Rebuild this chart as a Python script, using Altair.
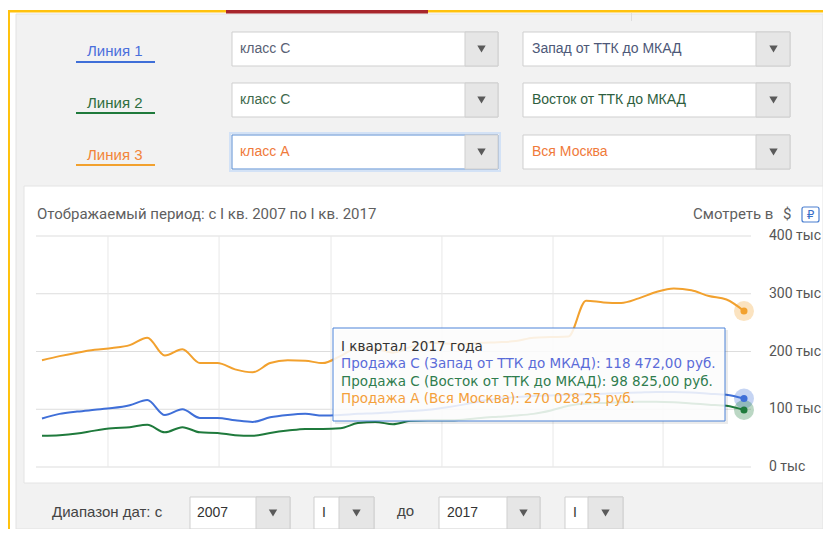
import altair as alt
import pandas as pd

# ---------------- data ----------------
QUARTER = list(range(41))  # 0 = I кв. 2007 ... 40 = I кв. 2017

ZAPAD_C = [84000, 92000, 96000, 99000, 102000, 107000, 116000, 90000, 100000, 85000,
           85000, 81000, 78000, 86000, 90000, 92000, 89000, 90000, 92000, 93000,
           95000, 97000, 99000, 103000, 108000, 114000, 118000, 121000, 123000, 124000,
           125000, 126000, 127000, 128000, 129000, 130000, 130000, 129000, 127000, 125000,
           118472.00]
VOSTOK_C = [54000, 55000, 58000, 63000, 67000, 69000, 73000, 60000, 69000, 60000,
            59000, 55000, 54000, 59000, 63000, 66000, 66000, 67000, 76000, 78000,
            74000, 80000, 81000, 81000, 82000, 85000, 87000, 89000, 92000, 98000,
            106000, 110000, 111000, 112000, 113000, 113000, 112000, 110000, 108000, 106000,
            98825.00]
MOSCOW_A = [185000, 192000, 198000, 203000, 206000, 211000, 224000, 193000, 204000, 180000,
            180000, 169000, 164000, 180000, 185000, 184000, 180000, 192000, 206000, 205000,
            198000, 208000, 215000, 214000, 213000, 215000, 216000, 218000, 224000, 225000,
            226000, 288000, 285000, 284000, 292000, 303000, 309000, 306000, 296000, 290000,
            270028.25]

SERIES = ["Продажа С (Запад от ТТК до МКАД)",
          "Продажа С (Восток от ТТК до МКАД)",
          "Продажа А (Вся Москва)"]
LINE_COLORS = ["#3f6fd8", "#1f7a3c", "#f2a12e"]
TEXT_COLORS = ["#5a6bd8", "#2f7d4e", "#f4a03a"]

Y_TICKS = [0, 100000, 200000, 300000, 400000]
Y_LABELS = ["0 тыс", "100 тыс", "200 тыс", "300 тыс", "400 тыс"]
X_GRID = [3.76, 10.09, 16.47, 22.79, 29.12, 35.39]

PERIOD_TITLE = "Отображаемый период: с I кв. 2007 по I кв. 2017"
TOOLTIP_TITLE = "I квартал 2017 года"

# ---------------- layout ----------------
OX, OY = 36, 236          # page position of plot origin
W, H = 715, 231
PAD = {"left": OX - 8, "top": OY - 8, "right": 815 - (OX - 8) - W, "bottom": 521 - (OY - 8) - H}

rows = []
for name, vals in zip(SERIES, [ZAPAD_C, VOSTOK_C, MOSCOW_A]):
    for q, v in zip(QUARTER, vals):
        rows.append({"q": q, "value": v, "series": name})
df = pd.DataFrame(rows)
last = df[df.q == QUARTER[-1]]

xs = alt.Scale(domain=[-0.342, 40.40], nice=False, zero=False)
ys = alt.Scale(domain=[0, 400000], nice=False, zero=False)
cs = alt.Scale(domain=SERIES, range=LINE_COLORS)


def rub(v):
    return "{:,.2f}".format(v).replace(",", " ").replace(".", ",") + " руб."


def rect_layer(items, **mark):
    d = pd.DataFrame(items, columns=["x1", "y1", "x2", "y2", "f", "s", "sw"])
    d["x1"] -= OX; d["x2"] -= OX; d["y1"] -= OY; d["y2"] -= OY
    return alt.Chart(d).mark_rect(**mark).encode(
        x=alt.X("x1:Q", scale=None, axis=None), x2="x2:Q",
        y=alt.Y("y1:Q", scale=None, axis=None), y2="y2:Q",
        fill=alt.Fill("f:N", scale=None, legend=None),
        stroke=alt.Stroke("s:N", scale=None, legend=None),
        strokeWidth=alt.StrokeWidth("sw:Q", scale=None, legend=None))


def text_layer(items, font, size, align="left", weight="normal"):
    d = pd.DataFrame(items, columns=["x", "y", "t", "c"])
    d["x"] -= OX; d["y"] -= OY
    return alt.Chart(d).mark_text(font=font, fontSize=size, align=align,
                                  baseline="middle", fontWeight=weight).encode(
        x=alt.X("x:Q", scale=None, axis=None), y=alt.Y("y:Q", scale=None, axis=None),
        text="t:N", color=alt.Color("c:N", scale=None, legend=None))


T = "transparent"
bg_items = [
    (16, 14, 823, 529, "#f2f2f2", "#e2e2e2", 1),
    (8, 10, 823, 12.5, "#ffc20e", T, 0),
    (8, 10, 10, 529, "#ffc20e", T, 0),
    (226, 10, 428, 13.5, "#a8262c", T, 0),
    (631, 13, 632, 21, "#dddddd", T, 0),
    (24, 186, 823, 483, "#ffffff", "#e4e4e4", 1),
]
SEL_ROWS = [(32, 66), (83, 117), (135, 169)]
for i, (y1, y2) in enumerate(SEL_ROWS):
    if i == 2:
        bg_items.append((230, y1 - 2, 500, y2 + 2, T, "#d3e2f6", 2))
    bg_items.append((232, y1, 498, y2, "#ffffff", "#5b8fd6" if i == 2 else "#cfcfcf", 1))
    bg_items.append((465, y1, 498, y2, "#e6e6e6", "#cfcfcf", 1))
    bg_items.append((523, y1, 790, y2, "#ffffff", "#cfcfcf", 1))
    bg_items.append((756, y1, 790, y2, "#e6e6e6", "#cfcfcf", 1))
UNDER_Y = [62, 113, 165]
for i, yy in enumerate(UNDER_Y):
    bg_items.append((76, yy - 1, 155, yy + 1, LINE_COLORS[i], T, 0))
BOTTOM_SEL = [(190, 256, 290), (314, 339, 374), (439, 507, 540), (565, 588, 623)]
for (a, b, c) in BOTTOM_SEL:
    bg_items.append((a, 497, c, 529, "#ffffff", "#cfcfcf", 1))
    bg_items.append((b, 497, c, 529, "#e6e6e6", "#cfcfcf", 1))
bg = rect_layer(bg_items)

rub_box = rect_layer([(802, 207, 819, 222, "#ffffff", "#4a7fd0", 1.2)], cornerRadius=2)

arrow_pts = [(481.5, (y1 + y2) / 2) for (y1, y2) in SEL_ROWS] + \
            [(773.5, (y1 + y2) / 2) for (y1, y2) in SEL_ROWS] + \
            [((b + c) / 2, 513) for (a, b, c) in BOTTOM_SEL]
ad = pd.DataFrame(arrow_pts, columns=["x", "y"])
ad["x"] -= OX; ad["y"] -= OY
arrows = alt.Chart(ad).mark_point(shape="triangle-down", filled=True, size=70,
                                  color="#5a5a5a", opacity=1).encode(
    x=alt.X("x:Q", scale=None, axis=None), y=alt.Y("y:Q", scale=None, axis=None))

# ---------------- chart layers ----------------
tick_df = pd.DataFrame({"v": Y_TICKS, "label": Y_LABELS})
ygrid = alt.Chart(tick_df).mark_rule(color="#dddddd", strokeWidth=1).encode(
    y=alt.Y("v:Q", scale=ys, axis=None),
    x=alt.value(0), x2=alt.value(W))
ylabels = alt.Chart(tick_df).mark_text(
    align="left", baseline="middle", font="Roboto", fontSize=14, color="#555555").encode(
    y=alt.Y("v:Q", scale=ys, axis=None), x=alt.value(W + 18), text="label:N")

xgrid = alt.Chart(pd.DataFrame({"q": X_GRID})).mark_rule(color="#e8e8e8", strokeWidth=1).encode(
    x=alt.X("q:Q", scale=xs, axis=None), y=alt.value(0), y2=alt.value(H))

lines = alt.Chart(df).mark_line(interpolate="monotone", strokeWidth=2).encode(
    x=alt.X("q:Q", scale=xs, axis=None),
    y=alt.Y("value:Q", scale=ys, axis=None),
    color=alt.Color("series:N", scale=cs, legend=None))

halo = alt.Chart(last).mark_circle(size=400, opacity=0.3).encode(
    x=alt.X("q:Q", scale=xs, axis=None), y=alt.Y("value:Q", scale=ys, axis=None),
    color=alt.Color("series:N", scale=cs, legend=None))
dots = alt.Chart(last).mark_circle(size=50, opacity=1).encode(
    x=alt.X("q:Q", scale=xs, axis=None), y=alt.Y("value:Q", scale=ys, axis=None),
    color=alt.Color("series:N", scale=cs, legend=None))

tip_shadow = rect_layer([(335, 330, 728, 424, "#000000", T, 0)], opacity=0.08)
tip_box = rect_layer([(333, 328, 725, 421, "#ffffff", "#4d83d8", 1)], fillOpacity=0.86)

last_vals = [ZAPAD_C[-1], VOSTOK_C[-1], MOSCOW_A[-1]]
tip_text = text_layer(
    [(341, 347, TOOLTIP_TITLE, "#333333")] +
    [(341, 364 + 17.5 * i, f"{SERIES[i]}: {rub(last_vals[i])}", TEXT_COLORS[i]) for i in range(3)],
    "DejaVu Sans", 13.5)

legend_text = text_layer([
    (87, 51, "Линия 1", "#4a6fdc"),
    (87, 103, "Линия 2", "#2e6e3e"),
    (87, 155, "Линия 3", "#f2853a"),
], "Liberation Sans", 15)

ui_text = text_layer([
    (240, 49, "класс С", "#596275"),
    (532, 49, "Запад от ТТК до МКАД", "#4d5878"),
    (240, 100, "класс С", "#3e6a4c"),
    (532, 100, "Восток от ТТК до МКАД", "#2e5e3e"),
    (240, 152, "класс А", "#f07a3a"),
    (532, 152, "Вся Москва", "#f07a3a"),
    (197, 513, "2007", "#333333"),
    (322, 513, "I", "#333333"),
    (447, 513, "2017", "#333333"),
    (573, 513, "I", "#333333"),
], "Liberation Sans", 14)

bottom_text = text_layer([
    (52, 512, "Диапазон дат: с", "#444444"),
    (397, 511, "до", "#444444"),
], "Liberation Sans", 15)

chart_text = text_layer([
    (37, 214, PERIOD_TITLE, "#5f5f5f"),
    (693, 214, "Смотреть в", "#5f5f5f"),
    (783, 214, "$", "#5f5f5f"),
], "Roboto", 15)
rub_text = text_layer([(810.5, 215, "₽", "#3a6fc8")], "DejaVu Sans", 12, align="center")

chart = alt.layer(
    bg, rub_box, arrows, ygrid, xgrid, lines, halo, dots,
    tip_shadow, tip_box, tip_text, legend_text, ui_text, bottom_text, chart_text, rub_text,
    ylabels
).properties(
    width=W, height=H, padding=PAD,
    autosize=alt.AutoSizeParams(type="none")
).configure_view(stroke=None).configure(background="#ffffff")

chart.save("out.html", embed_options={"renderer": "svg", "actions": False})
